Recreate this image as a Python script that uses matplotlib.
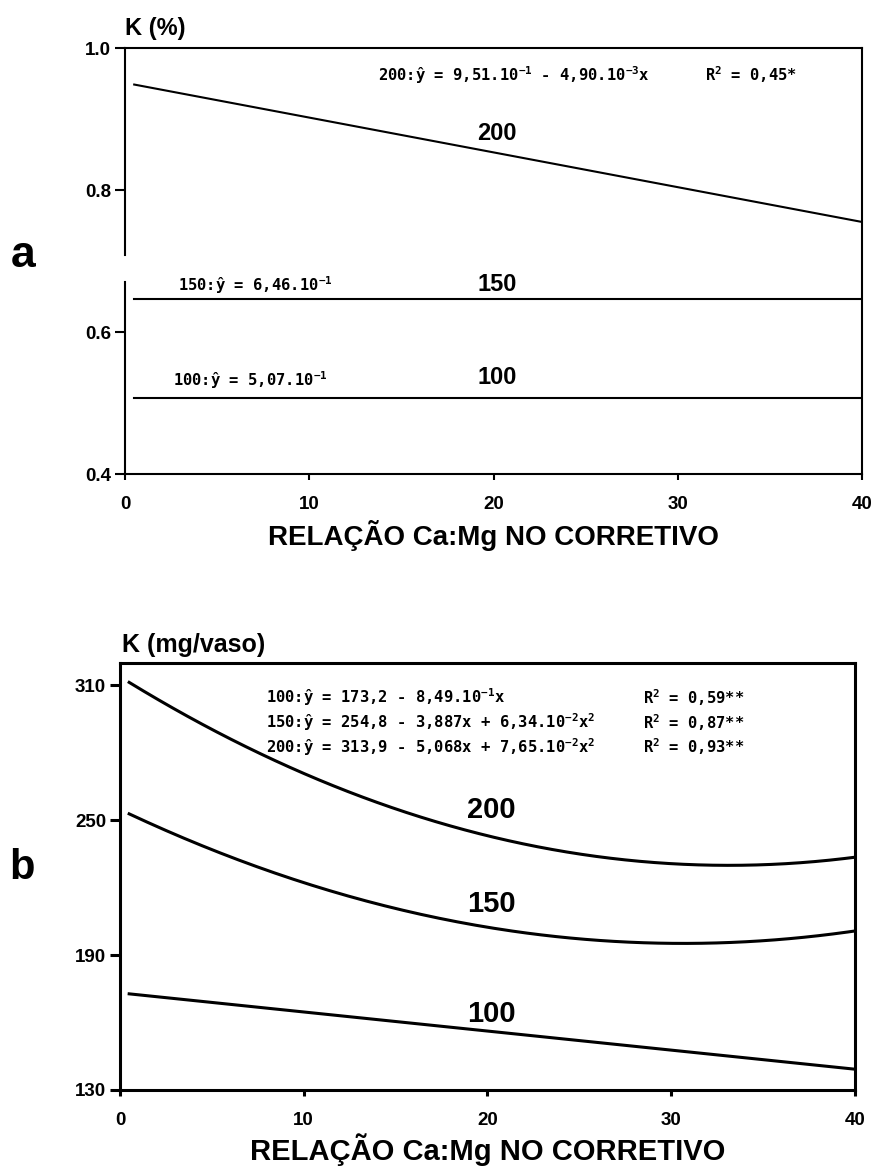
import matplotlib
matplotlib.use("Agg")
import matplotlib.pyplot as plt
import numpy as np

plt.rcParams["font.family"] = ["Liberation Sans", "DejaVu Sans"]
plt.rcParams["mathtext.fontset"] = "custom"
plt.rcParams["mathtext.rm"] = "DejaVu Sans Mono:bold"
plt.rcParams["mathtext.it"] = "DejaVu Sans Mono:bold"

# K doses (mg/dm3) and fitted regressions vs Ca:Mg ratio of the liming material
doses = [100, 150, 200]
dose_labels = ["100", "150", "200"]

# a) K content in the shoots (%): y = b0 + b1 x
k_pct_b0 = [5.07e-1, 6.46e-1, 9.51e-1]
k_pct_b1 = [0.0, 0.0, -4.90e-3]

# b) K accumulated (mg/vaso): y = b0 + b1 x + b2 x^2
k_mg_b0 = [173.2, 254.8, 313.9]
k_mg_b1 = [-0.849, -3.887, -5.068]
k_mg_b2 = [0.0, 6.34e-2, 7.65e-2]

ratio_min, ratio_max = 0.5, 40
x_ticks = [0, 10, 20, 30, 40]
pct_ticks = [0.4, 0.6, 0.8, 1.0]
pct_tick_labels = ["0.4", "0.6", "0.8", "1.0"]
mg_ticks = [130, 190, 250, 310]

eq_pct_200 = r"200:ŷ = 9,51.10$^{-1}$ - 4,90.10$^{-3}$x"
r2_pct_200 = r"R$^2$ = 0,45*"
eq_pct_150 = r"150:ŷ = 6,46.10$^{-1}$"
eq_pct_100 = r"100:ŷ = 5,07.10$^{-1}$"
eq_mg = [
    r"100:ŷ = 173,2 - 8,49.10$^{-1}$x",
    r"150:ŷ = 254,8 - 3,887x + 6,34.10$^{-2}$x$^2$",
    r"200:ŷ = 313,9 - 5,068x + 7,65.10$^{-2}$x$^2$",
]
r2_mg = [r"R$^2$ = 0,59**", r"R$^2$ = 0,87**", r"R$^2$ = 0,93**"]

xlabel = "RELAÇÃO Ca:Mg NO CORRETIVO"
eq_font = dict(family="DejaVu Sans Mono", fontsize=11.2, fontweight="bold")

fig = plt.figure(figsize=(8.79, 11.71), dpi=100)
ax_a = fig.add_axes([0.1422, 0.5952, 0.8385, 0.3638])
ax_b = fig.add_axes([0.1365, 0.0692, 0.8362, 0.3646])

x = np.linspace(ratio_min, ratio_max, 200)


def style_axes(ax, lw, tick_size):
    for side in ("top", "right", "bottom", "left"):
        ax.spines[side].set_linewidth(lw)
    ax.set_xlim(0, 40)
    ax.set_xticks(x_ticks)
    ax.tick_params(axis="y", direction="out", length=7, width=lw, pad=3,
                   labelsize=tick_size)
    ax.tick_params(axis="x", direction="out", length=4, width=lw, pad=12,
                   labelsize=tick_size)
    for lab in ax.get_xticklabels() + ax.get_yticklabels():
        lab.set_fontweight("bold")


# panel a
for b0, b1 in zip(k_pct_b0, k_pct_b1):
    ax_a.plot(x, b0 + b1 * x, color="black", lw=1.5)
ax_a.set_ylim(0.4, 1.0)
ax_a.set_yticks(pct_ticks)
ax_a.set_yticklabels(pct_tick_labels)
style_axes(ax_a, 1.5, 13.5)
# left spine is broken beside the panel letter
ax_a.spines["left"].set_visible(False)
ax_a.axvline(0, ymin=0, ymax=0.45, color="black", lw=1.5, clip_on=False)
ax_a.axvline(0, ymin=0.515, ymax=1, color="black", lw=1.5, clip_on=False)

for lab, yl in zip(dose_labels, [0.536, 0.667, 0.880]):
    ax_a.text(20.2, yl, lab, ha="center", va="center", fontsize=17,
              fontweight="bold")
ax_a.text(0.343, 0.937, eq_pct_200, transform=ax_a.transAxes, va="center", **eq_font)
ax_a.text(0.787, 0.937, r2_pct_200, transform=ax_a.transAxes, va="center", **eq_font)
ax_a.text(0.072, 0.444, eq_pct_150, transform=ax_a.transAxes, va="center", **eq_font)
ax_a.text(0.065, 0.221, eq_pct_100, transform=ax_a.transAxes, va="center", **eq_font)
ax_a.text(0.0, 1.045, "K (%)", transform=ax_a.transAxes, ha="left", va="center",
          fontsize=17, fontweight="bold")
ax_a.set_xlabel(xlabel, fontsize=20, fontweight="bold", va="center")
ax_a.xaxis.set_label_coords(0.5, -0.145)

# panel b
for b0, b1, b2 in zip(k_mg_b0, k_mg_b1, k_mg_b2):
    ax_b.plot(x, b0 + b1 * x + b2 * x ** 2, color="black", lw=2.2)
ax_b.set_ylim(130, 320)
ax_b.set_yticks(mg_ticks)
style_axes(ax_b, 2.2, 13.5)

for lab, yl in zip(dose_labels, [163.6, 212.8, 254.5]):
    ax_b.text(20.2, yl, lab, ha="center", va="center", fontsize=21,
              fontweight="bold")
for i, (eq, r2) in enumerate(zip(eq_mg, r2_mg)):
    yy = 0.920 - i * 0.0585
    ax_b.text(0.199, yy, eq, transform=ax_b.transAxes, va="center", **eq_font)
    ax_b.text(0.712, yy, r2, transform=ax_b.transAxes, va="center", **eq_font)
ax_b.text(0.003, 1.042, "K (mg/vaso)", transform=ax_b.transAxes, ha="left",
          va="center", fontsize=18, fontweight="bold")
ax_b.set_xlabel(xlabel, fontsize=21, fontweight="bold", va="center")
ax_b.xaxis.set_label_coords(0.5, -0.1405)

fig.text(0.026, 0.782, "a", ha="center", va="center", fontsize=32, fontweight="bold")
fig.text(0.025, 0.259, "b", ha="center", va="center", fontsize=30, fontweight="bold")

fig.savefig("out.png", dpi=100)
